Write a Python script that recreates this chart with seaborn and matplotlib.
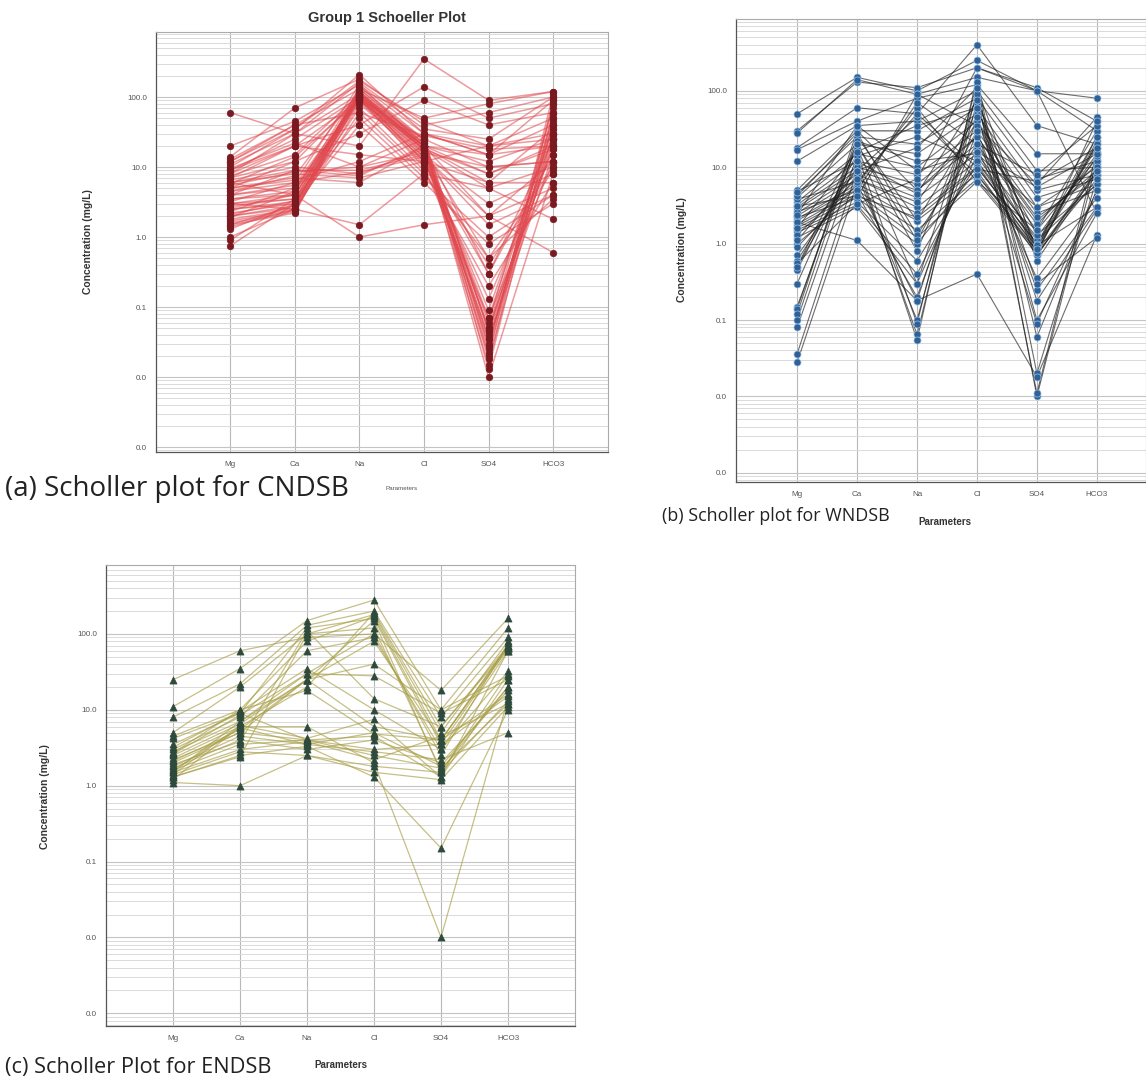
import matplotlib
matplotlib.use("Agg")
import matplotlib.pyplot as plt
import pandas as pd
import seaborn as sns
from matplotlib.ticker import FixedLocator, LogLocator, NullFormatter

PARAMS = ["Mg", "Ca", "Na", "Cl", "SO4", "HCO3"]
Y_TICKS = [0.001, 0.01, 0.1, 1.0, 10.0, 100.0]
Y_TICK_LABELS = ["0.0", "0.0", "0.1", "1.0", "10.0", "100.0"]

# (a) CNDSB samples, one list per parameter
cnd_mg = [60, 20, 14, 12, 10, 9, 8, 7.5, 7, 6.5, 6, 6, 5.5, 5, 5, 4.5, 4.5, 4, 4, 3.5,
          3.5, 3, 3, 2.8, 2.5, 2.5, 2.2, 2, 2, 1.8, 1.7, 1.6, 1.5, 1.4, 1.3, 1.0, 0.9, 0.75, 8, 9,
          3, 6, 11, 7, 5, 12, 13, 9.5, 4, 2.3, 1.9, 2.6, 1.5, 2.1, 3.2, 5.8]
cnd_ca = [30, 45, 70, 40, 35, 25, 20, 15, 12, 10, 9, 8, 8.5, 7, 6.5, 6, 7.5, 5.5, 5, 4.5,
          4, 4, 3.5, 3.5, 3.2, 3, 3, 2.8, 2.6, 2.5, 2.4, 2.3, 2.2, 2.5, 3, 2.5, 3.5, 3, 30, 20,
          2.5, 4, 30, 20, 12, 35, 40, 22, 9, 5, 4.5, 4, 2.8, 3.3, 6, 14]
cnd_na = [110, 150, 180, 130, 210, 100, 90, 110, 100, 8, 9, 7, 10, 6, 12, 8.5, 120, 100, 90, 130,
          110, 95, 100, 120, 85, 100, 90, 110, 140, 100, 80, 95, 120, 105, 70, 60, 50, 40, 160, 15,
          1.5, 1.0, 20, 40, 30, 170, 60, 10, 7.5, 95, 100, 110, 130, 115, 150, 90]
cnd_cl = [20, 30, 40, 50, 30, 20, 18, 25, 22, 18, 15, 12, 25, 20, 30, 14, 20, 18, 16, 22,
          20, 25, 15, 18, 14, 12, 20, 16, 25, 18, 13, 10, 22, 20, 9, 8, 7, 6, 35, 12,
          8, 1.5, 350, 140, 90, 45, 28, 16, 20, 14, 12, 19, 24, 17, 20, 11]
cnd_so4 = [15, 20, 60, 80, 15, 12, 8, 0.045, 0.035, 5, 3, 6, 10, 2, 15, 1.5, 0.05, 0.07, 0.09, 0.028,
           0.022, 0.045, 0.035, 0.06, 0.05, 0.13, 0.3, 0.5, 0.025, 0.03, 0.04, 0.07, 0.018, 0.01, 0.2, 0.5, 1.0, 0.8, 25, 20,
           5, 2, 90, 50, 40, 20, 18, 10, 8, 2, 0.3, 6, 0.013, 0.015, 0.02, 0.4]
cnd_hco3 = [40, 50, 100, 120, 90, 25, 20, 30, 15, 10, 8, 6, 12, 5, 20, 4, 50, 40, 35, 60,
            45, 30, 25, 70, 20, 18, 15, 10, 80, 40, 22, 12, 30, 8, 6, 3.5, 4, 3, 100, 30,
            1.8, 0.6, 120, 80, 60, 25, 20, 12, 18, 12, 25, 35, 60, 90, 110, 9]

# (b) WNDSB samples
wnd_mg = [50, 30, 28, 18, 17, 12, 5, 4.5, 4, 3.5, 3.2, 3, 2.8, 2.5, 2.3, 2.1, 2, 1.8, 1.7, 1.6,
          1.5, 1.4, 1.2, 1.0, 0.9, 0.7, 0.6, 0.5, 0.45, 0.3, 0.15, 0.14, 0.12, 0.1, 0.08, 0.036, 0.028, 2.2, 2.6, 3.8,
          1.9, 1.3, 4.2, 0.55, 2.4, 1.1, 3.1, 0.5, 4.8, 1.6]
wnd_ca = [150, 130, 140, 60, 40, 35, 30, 25, 20, 15, 12, 10, 9, 8, 7, 6, 5.5, 5, 4.5, 4,
          3.5, 3.2, 3, 4.5, 6, 8, 10, 12, 15, 18, 20, 25, 30, 22, 14, 9, 6, 4, 5, 6.5,
          1.1, 7, 28, 3.3, 35, 9, 4.2, 20, 12, 16]
wnd_na = [100, 110, 90, 50, 80, 40, 30, 20, 15, 10, 8, 6, 5, 4, 3, 2.5, 2, 1.5, 1.2, 1.0,
          0.6, 0.4, 0.3, 0.2, 0.18, 0.1, 0.065, 0.055, 0.09, 0.3, 0.8, 2, 5, 12, 25, 45, 60, 90, 70, 50,
          0.18, 3.5, 1.3, 7, 9, 18, 2.2, 1.1, 4.5, 35]
wnd_cl = [250, 200, 150, 400, 120, 100, 80, 60, 50, 40, 30, 25, 20, 15, 12, 10, 8, 7, 6.5, 9,
          11, 14, 18, 30, 45, 70, 100, 150, 130, 90, 60, 40, 25, 15, 12, 8, 6.5, 35, 20, 10,
          0.4, 45, 20, 200, 16, 110, 9.5, 30, 75, 60]
wnd_so4 = [100, 110, 100, 35, 15, 9, 7, 5, 4, 3, 2.5, 2, 1.8, 1.5, 1.2, 1, 0.9, 0.8, 0.75, 0.7,
           0.8, 1.1, 0.35, 0.25, 0.18, 0.1, 0.06, 0.02, 0.01, 0.011, 0.7, 1.3, 2.2, 3, 0.9, 0.8, 1.5, 6, 8, 1,
           0.018, 0.3, 0.95, 100, 5.5, 0.75, 6.5, 0.09, 0.85, 0.6]
wnd_hco3 = [80, 40, 30, 20, 15, 10, 12, 8, 7, 6, 5, 9, 11, 13, 15, 18, 20, 22, 25, 10,
            8, 6, 4, 3, 2.8, 2.5, 5, 7, 12, 16, 9, 6, 8, 10, 14, 20, 30, 45, 35, 25,
            1.3, 1.2, 3, 2.5, 15, 7, 18, 5, 40, 9]

# (c) ENDSB samples
end_mg = [25, 11, 8, 5, 4.5, 3.5, 3, 2.8, 2.5, 2.3, 2.1, 2, 1.8, 1.7, 1.6, 1.5, 1.4, 1.3, 1.2, 1.1,
          1.5, 2.6, 3.2, 1.9, 2.2, 1.4, 1.6, 2.7, 1.3, 4.2]
end_ca = [60, 35, 22, 20, 10, 9, 8, 7, 6.5, 6, 5.5, 5, 4.5, 4, 3.5, 3, 2.8, 2.5, 6, 1.0,
          7, 8.5, 9.5, 3.8, 5, 6.2, 5.8, 10, 2.4, 9]
end_na = [90, 150, 130, 100, 80, 120, 60, 30, 25, 20, 25, 4, 3.5, 3, 4, 3.8, 2.5, 3.3, 6, 2.5,
          25, 30, 35, 110, 25, 4.2, 3.5, 18, 100, 4]
end_cl = [100, 280, 200, 180, 170, 160, 90, 100, 80, 190, 150, 4.5, 5, 4, 3, 2.2, 1.5, 1.3, 2, 1.8,
          40, 28, 10, 14, 6, 7.5, 2.8, 4.8, 120, 2.5]
end_so4 = [18, 10, 8, 5, 4, 3.5, 3, 2.5, 4, 6, 1.5, 1.3, 1.8, 2, 3.5, 4.5, 1.2, 0.15, 0.01, 1.5,
           10, 9, 3, 6, 4, 1.3, 2.2, 4, 1.6, 1.7]
end_hco3 = [160, 120, 90, 80, 70, 65, 60, 75, 70, 65, 30, 25, 20, 18, 15, 12, 11, 10, 14, 13,
            28, 25, 32, 70, 65, 60, 5, 16, 20, 12]


def long_frame(columns: list) -> pd.DataFrame:
    wide = pd.DataFrame(dict(zip(PARAMS, columns)))
    wide["sample"] = range(len(wide))
    df = wide.melt(id_vars="sample", var_name="param", value_name="value")
    df["x"] = df["param"].map({p: i for i, p in enumerate(PARAMS)})
    return df


def style_axes(ax: plt.Axes, xlim: tuple, ylim: tuple) -> None:
    ax.set_yscale("log")
    ax.set_ylim(*ylim)
    ax.set_xlim(*xlim)
    ax.set_xticks(range(len(PARAMS)))
    ax.set_xticklabels(PARAMS)
    ax.yaxis.set_major_locator(FixedLocator(Y_TICKS))
    ax.set_yticklabels(Y_TICK_LABELS)
    ax.yaxis.set_minor_locator(LogLocator(base=10, subs=range(2, 10)))
    ax.yaxis.set_minor_formatter(NullFormatter())
    ax.set_xlabel("")
    ax.set_ylabel("")
    ax.set_facecolor("white")
    ax.grid(which="major", axis="y", color="#c4c4c4", linewidth=0.8)
    ax.grid(which="minor", axis="y", color="#dadada", linewidth=0.7)
    ax.grid(which="major", axis="x", color="#b8b8b8", linewidth=0.8)
    ax.set_axisbelow(True)
    ax.tick_params(axis="both", which="major", labelsize=5.8, labelcolor="#555555",
                   color="#777777", length=3, width=0.6)
    ax.tick_params(axis="y", which="minor", color="#777777", length=2, width=0.5)
    for side in ["left", "bottom"]:
        ax.spines[side].set_color("#555555")
        ax.spines[side].set_linewidth(0.9)
    for side in ["top", "right"]:
        ax.spines[side].set_color("#aaaaaa")
        ax.spines[side].set_linewidth(0.8)


def draw_panel(ax, frame, line_color, line_alpha, lw, marker, face, edge, size, xlim, ylim):
    sns.lineplot(data=frame, x="x", y="value", units="sample", estimator=None, sort=False,
                 color=line_color, alpha=line_alpha, linewidth=lw, legend=False, ax=ax)
    sns.scatterplot(data=frame, x="x", y="value", marker=marker, color=face, edgecolor=edge,
                    linewidth=0.5, s=size, legend=False, ax=ax, zorder=3)
    style_axes(ax, xlim, ylim)


sns.set_theme(style="white")
plt.rcParams["font.family"] = ["Liberation Sans", "DejaVu Sans"]

fig = plt.figure(figsize=(11.46, 10.8), dpi=100)
W, H = 1146, 1080


def add_axes(left, right, top, bottom):
    return fig.add_axes([left / W, 1 - bottom / H, (right - left) / W, (bottom - top) / H])


ax_a = add_axes(156, 608, 32, 452)
ax_b = add_axes(736, 1146, 19, 482)
ax_c = add_axes(106, 575, 565, 1026)

cnd = long_frame([cnd_mg, cnd_ca, cnd_na, cnd_cl, cnd_so4, cnd_hco3])
wnd = long_frame([wnd_mg, wnd_ca, wnd_na, wnd_cl, wnd_so4, wnd_hco3])
end = long_frame([end_mg, end_ca, end_na, end_cl, end_so4, end_hco3])

draw_panel(ax_a, cnd, "#e0484e", 0.55, 1.1, "o", "#7a1a20", "#7a1a20", 22,
           (-1.15, 5.85), (0.00085, 850))
draw_panel(ax_b, wnd, "#1e1e1e", 0.65, 0.8, "o", "#2f6196", "#9cc3e6", 26,
           (-1.02, 5.82), (0.00076, 870))
draw_panel(ax_c, end, "#a89e45", 0.65, 0.9, "^", "#2e4a3c", "#2e4a3c", 26,
           (-1.0, 6.0), (0.00068, 810))


def ftext(x, y, s, **kw):
    fig.text(x / W, 1 - y / H, s, **kw)


ftext(387, 18, "Group 1 Schoeller Plot", ha="center", va="center", fontsize=10.5,
      fontweight="bold", color="#333333")

ylab = dict(rotation=90, ha="center", va="center", fontsize=7.5, fontweight="bold", color="#333333")
ftext(88, 242, "Concentration (mg/L)", **ylab)
ftext(682, 250, "Concentration (mg/L)", **ylab)
ftext(45, 797, "Concentration (mg/L)", **ylab)

ftext(402, 488, "Parameters", ha="center", va="center", fontsize=4.5, color="#555555")
ftext(945, 522, "Parameters", ha="center", va="center", fontsize=7, fontweight="bold", color="#333333")
ftext(341, 1065, "Parameters", ha="center", va="center", fontsize=7, fontweight="bold", color="#333333")

cap = dict(ha="left", va="center", color="#222222", family=["Open Sans", "DejaVu Sans"])
ftext(5, 489, "(a) Scholler plot for CNDSB", fontsize=20, **cap)
ftext(662, 516, "(b) Scholler plot for WNDSB", fontsize=12.9, **cap)
ftext(5, 1067, "(c) Scholler Plot for ENDSB", fontsize=15.7, **cap)

fig.savefig("out.png", dpi=100)
